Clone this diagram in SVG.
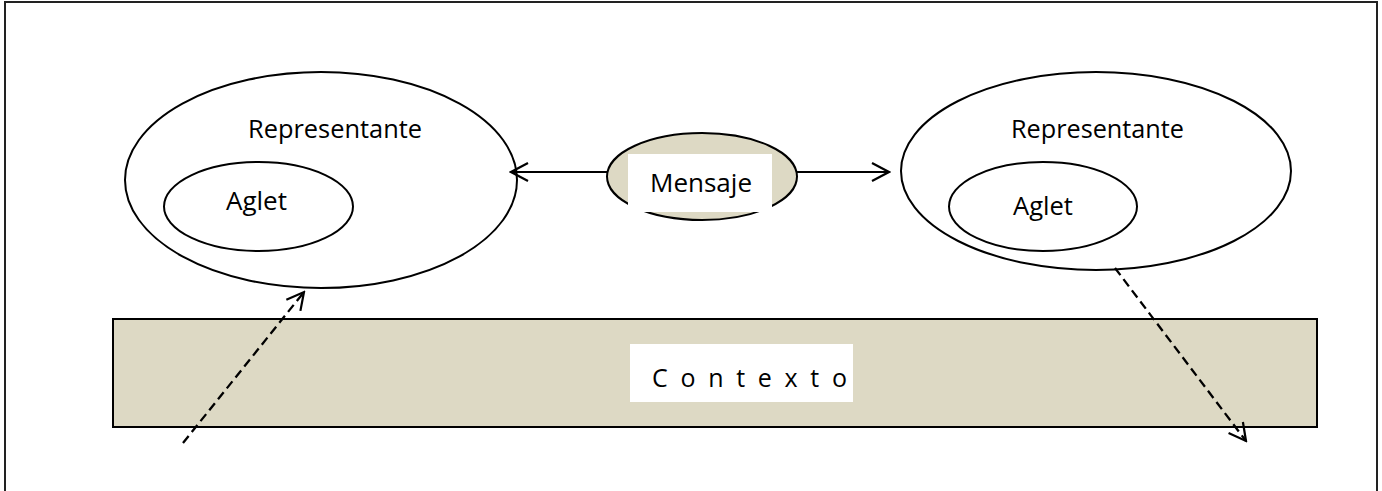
<svg xmlns="http://www.w3.org/2000/svg" width="1382" height="491" viewBox="0 0 1382 491">
<defs>
<style>
.ln{fill:none;stroke:#000;stroke-width:2}
.tan{fill:#DDD9C4;stroke:#000;stroke-width:2}
.wh{fill:#fff;stroke:none}
.t{font-family:"Open Sans","Liberation Sans",sans-serif;font-size:25px;fill:#000}
.dash{fill:none;stroke:#000;stroke-width:2.3;stroke-dasharray:9 5}
</style>
<marker id="open" viewBox="0 0 22 22" refX="20" refY="11" markerWidth="22" markerHeight="22" markerUnits="userSpaceOnUse" orient="auto-start-reverse">
<path d="M3,2 L20,11 L3,20" fill="none" stroke="#000" stroke-width="2.2"/>
</marker>
</defs>
<rect x="0" y="0" width="1382" height="491" fill="#fff"/>
<rect x="5" y="2" width="1372" height="520" fill="none" stroke="#222" stroke-width="2"/>
<g id="contexto">
<rect class="tan" x="113" y="319" width="1204" height="108"/>
<rect class="wh" x="630" y="344" width="223" height="58"/>
<text class="t" x="652" y="387" font-size="29" textLength="195" lengthAdjust="spacing">C o n t e x t o</text>
</g>
<g id="rep-left">
<ellipse class="ln" cx="321" cy="180" rx="196" ry="108"/>
<text class="t" x="248" y="138" textLength="174" lengthAdjust="spacingAndGlyphs">Representante</text>
</g>
<g id="aglet-left">
<ellipse class="ln" cx="258.5" cy="206.5" rx="94.5" ry="44.5"/>
<text class="t" x="226" y="210" textLength="61" lengthAdjust="spacingAndGlyphs">Aglet</text>
</g>
<g id="rep-right">
<ellipse class="ln" cx="1096" cy="171" rx="195" ry="99"/>
<text class="t" x="1011" y="138" textLength="173" lengthAdjust="spacingAndGlyphs">Representante</text>
</g>
<g id="aglet-right">
<ellipse class="ln" cx="1043" cy="206.5" rx="94" ry="44.5"/>
<text class="t" x="1013" y="215" textLength="60" lengthAdjust="spacingAndGlyphs">Aglet</text>
</g>
<g id="mensaje">
<ellipse class="tan" cx="702" cy="176.5" rx="95" ry="43.5"/>
<rect class="wh" x="628" y="154" width="144" height="58"/>
<text class="t" x="650" y="192" textLength="102" lengthAdjust="spacingAndGlyphs">Mensaje</text>
</g>
<g id="connectors">
<line class="ln" x1="607" y1="172" x2="511" y2="172" marker-end="url(#open)"/>
<line class="ln" x1="797" y1="172" x2="889" y2="172" marker-end="url(#open)"/>
<line class="dash" x1="183" y1="443" x2="304" y2="292" marker-end="url(#open)"/>
<line class="dash" x1="1115" y1="268" x2="1246" y2="441" marker-end="url(#open)"/>
</g>
</svg>
